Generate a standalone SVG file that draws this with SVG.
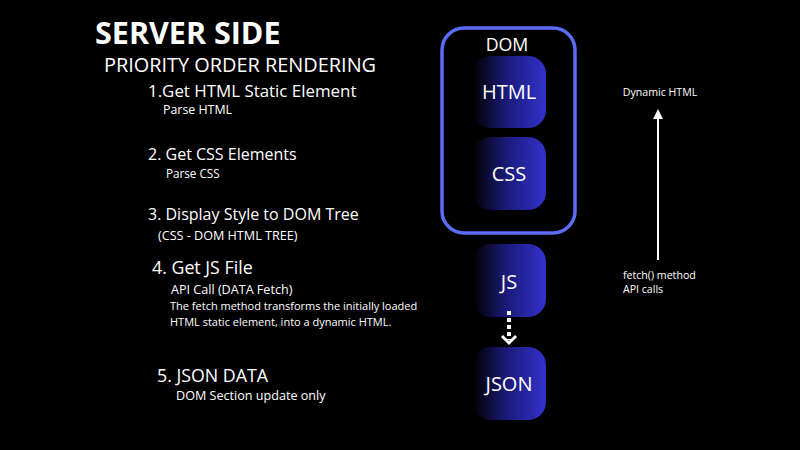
<svg xmlns="http://www.w3.org/2000/svg" width="800" height="450" viewBox="0 0 800 450">
<defs>
<linearGradient id="g" x1="0" y1="0" x2="1" y2="0">
<stop offset="0" stop-color="#000000"/>
<stop offset="0.45" stop-color="#1a1a78"/>
<stop offset="1" stop-color="#3232cc"/>
</linearGradient>
<marker id="tri" markerWidth="10" markerHeight="10" refX="5" refY="5" orient="auto" markerUnits="userSpaceOnUse">
<path d="M0,0 L10,5 L0,10 Z" fill="#ffffff"/>
</marker>
</defs>
<style>
text{font-family:"Open Sans","Noto Sans","Liberation Sans",sans-serif;fill:#ffffff}
.box{fill:url(#g)}
.lbl{font-size:20px;text-anchor:middle}
.h{font-size:16px}
.h2{font-size:17.8px}
.s{font-size:12.6px}
.xs{font-size:11px}
.n{font-size:10.6px}
</style>
<rect width="800" height="450" fill="#000000"/>
<g id="text-left">
<text x="95" y="44" style="font-size:30.5px;font-weight:bold">SERVER SIDE</text>
<text x="104" y="72" style="font-size:19.9px">PRIORITY ORDER RENDERING</text>
<text x="148" y="97" style="font-size:16.9px">1.Get HTML Static Element</text>
<text x="163" y="114" style="font-size:12.4px">Parse HTML</text>
<text x="148" y="160" class="h">2. Get CSS Elements</text>
<text x="166" y="178" style="font-size:11.7px">Parse CSS</text>
<text x="148" y="220" class="h">3. Display Style to DOM Tree</text>
<text x="158" y="240" class="s">(CSS - DOM HTML TREE)</text>
<text x="152" y="274" class="h2">4. Get JS File</text>
<text x="171" y="294" class="s">API Call (DATA Fetch)</text>
<text x="170" y="310" class="xs">The fetch method transforms the initially loaded</text>
<text x="170" y="326" class="xs">HTML static element, into a dynamic HTML.</text>
<text x="157" y="382" class="h2">5. JSON DATA</text>
<text x="176" y="400" class="s">DOM Section update only</text>
</g>
<g id="dom">
<rect x="442" y="28" width="133" height="205" rx="22" fill="none" stroke="#5b6cf5" stroke-width="3.5"/>
<text x="507" y="51" text-anchor="middle" style="font-size:17.8px">DOM</text>
</g>
<g id="html">
<rect class="box" x="473" y="56" width="73" height="72" rx="18"/>
<text x="509" y="99" class="lbl">HTML</text>
</g>
<g id="css">
<rect class="box" x="473" y="137" width="73" height="73" rx="18"/>
<text x="509" y="181" class="lbl">CSS</text>
</g>
<g id="js">
<rect class="box" x="473" y="244" width="73" height="73" rx="18"/>
<text x="509" y="289" class="lbl">JS</text>
</g>
<g id="json">
<rect class="box" x="473" y="347" width="73" height="73" rx="18"/>
<text x="509" y="391" class="lbl">JSON</text>
</g>
<g id="side-notes">
<text x="660" y="96" text-anchor="middle" class="n">Dynamic HTML</text>
<text x="623" y="279" class="n">fetch() method</text>
<text x="623" y="293" class="n">API calls</text>
</g>
<g id="connectors">
<line x1="509" y1="311" x2="509" y2="340" stroke="#ffffff" stroke-width="4" stroke-dasharray="4,3"/>
<path d="M502,336 L509,343 L516,336" fill="none" stroke="#ffffff" stroke-width="3"/>
<line x1="658" y1="260" x2="658" y2="114" stroke="#ffffff" stroke-width="2" marker-end="url(#tri)"/>
</g>
</svg>
